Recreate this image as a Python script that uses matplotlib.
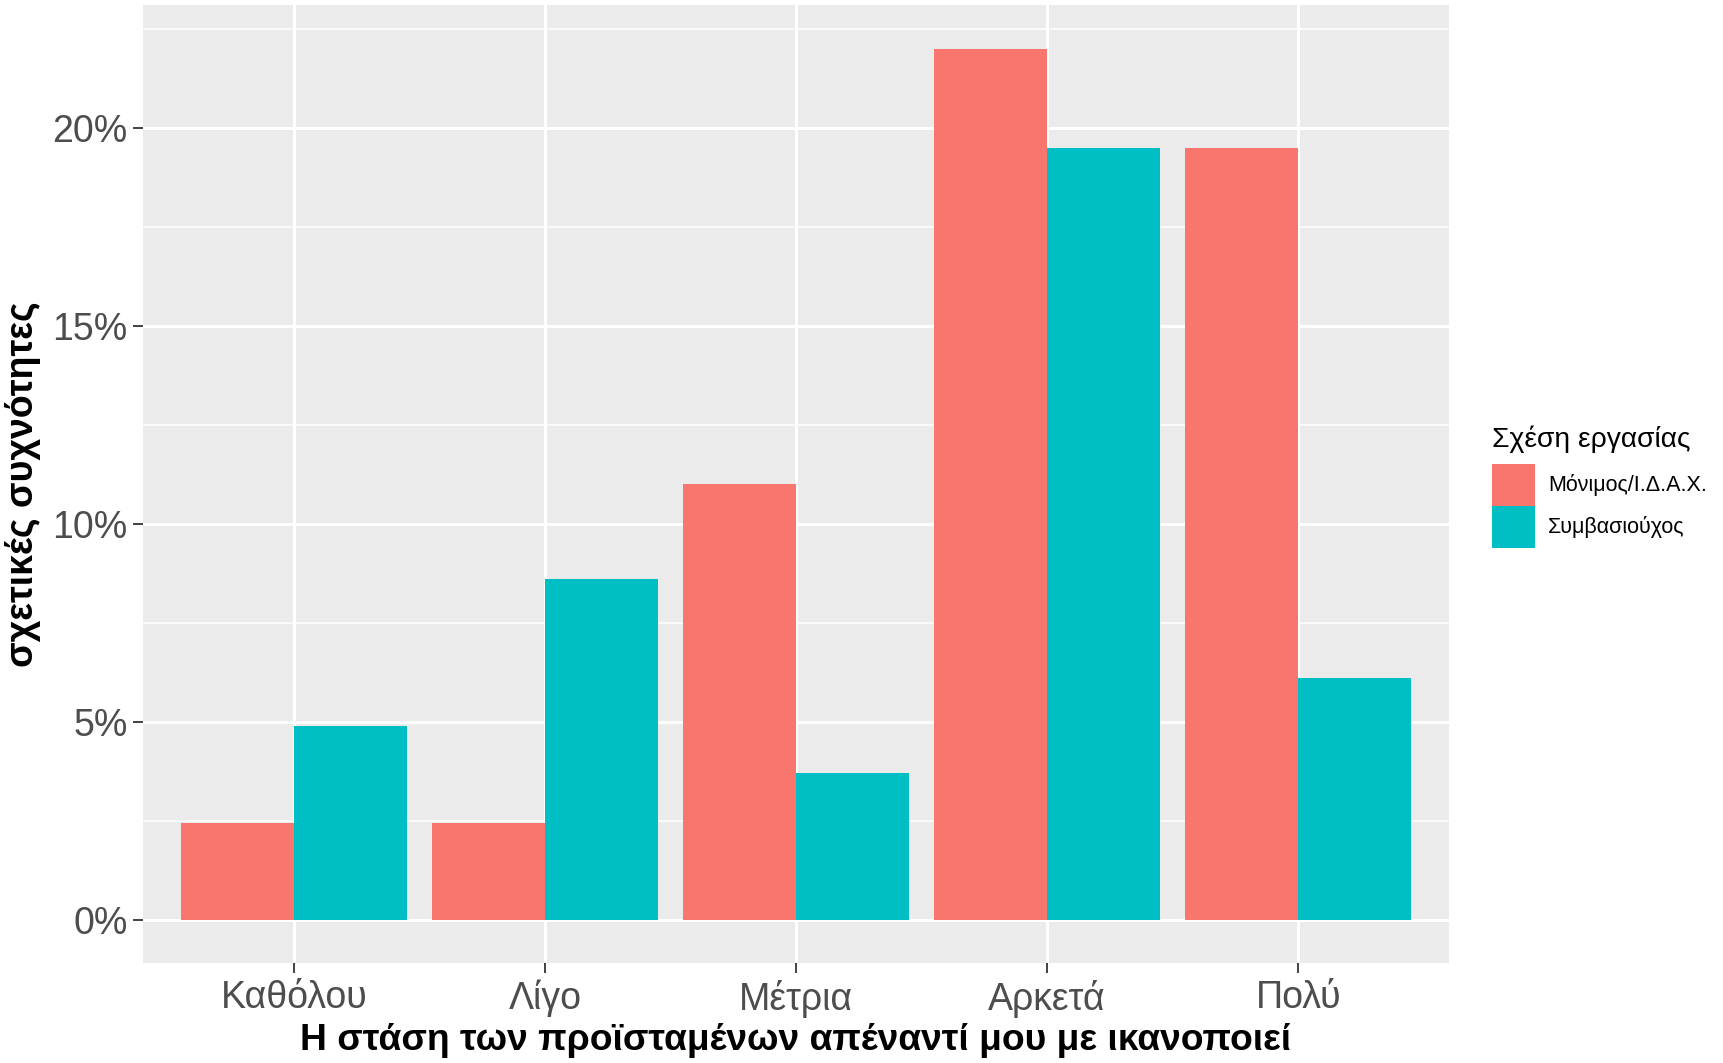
import numpy as np
import matplotlib.pyplot as plt
from matplotlib.patches import Patch
from matplotlib.ticker import FuncFormatter, MultipleLocator

plt.rcParams['font.family'] = ['Liberation Sans', 'DejaVu Sans']

# data (percent)
categories = ["Καθόλου", "Λίγο", "Μέτρια", "Αρκετά", "Πολύ"]
series_names = ["Μόνιμος/Ι.Δ.Α.Χ.", "Συμβασιούχος"]
monimos = [2.45, 2.45, 11.0, 22.0, 19.5]
symvasiouxos = [4.9, 8.6, 3.7, 19.5, 6.1]
colors = ["#F8766D", "#00BFC4"]

fig = plt.figure(figsize=(17.24, 10.63), dpi=100)
ax = fig.add_axes([0.083, 0.094, 0.7575, 0.9013])
ax.set_facecolor("#EBEBEB")

x = np.arange(1, len(categories) + 1)
w = 0.45
ax.bar(x - w / 2, monimos, width=w, color=colors[0], zorder=3)
ax.bar(x + w / 2, symvasiouxos, width=w, color=colors[1], zorder=3)

# grid like ggplot
ax.set_axisbelow(True)
ax.yaxis.set_major_locator(MultipleLocator(5))
ax.yaxis.set_minor_locator(MultipleLocator(2.5))
ax.grid(which="major", color="white", linewidth=2.2)
ax.grid(which="minor", axis="y", color="white", linewidth=1.1)
for s in ax.spines.values():
    s.set_visible(False)

ax.set_xlim(0.4, 5.6)
ax.set_ylim(-1.1, 23.1)
ax.set_xticks(x)
ax.set_xticklabels(categories)
ax.yaxis.set_major_formatter(FuncFormatter(lambda v, p: f"{v:.0f}%"))
ax.tick_params(which="major", length=7, width=1.3, color="#333333",
               labelcolor="#4D4D4D", labelsize=27, pad=4)
ax.tick_params(axis="x", pad=5)
ax.tick_params(which="minor", length=0)

ax.set_xlabel("Η στάση των προϊσταμένων απέναντί μου με ικανοποιεί",
              fontsize=26.8, fontweight="bold", labelpad=4)
ax.set_ylabel("σχετικές συχνότητες", fontsize=27, fontweight="bold", labelpad=8)

handles = [Patch(facecolor=c, edgecolor="none") for c in colors]
leg = ax.legend(handles, series_names, title="Σχέση εργασίας",
                loc="upper left", bbox_to_anchor=(0.8605, 0.608),
                bbox_transform=fig.transFigure, frameon=False,
                fontsize=15.5, title_fontsize=20.3,
                handlelength=2.0, handleheight=2.6, labelspacing=0.02,
                handletextpad=0.6, borderaxespad=0)
leg._legend_box.align = "left"
leg._legend_box.sep = 8

fig.savefig("out.png", dpi=100)
